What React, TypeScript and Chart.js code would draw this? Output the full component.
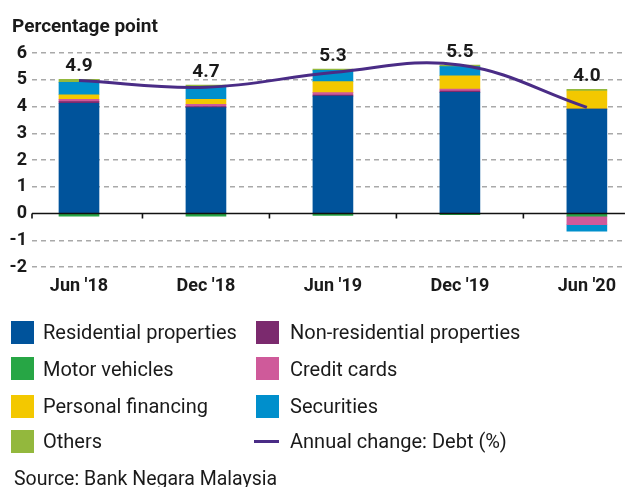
import React, { useEffect, useRef } from 'react';
import { Chart, registerables } from 'chart.js';

Chart.register(...registerables);

// ---- data ----
const categories = ["Jun '18", "Dec '18", "Jun '19", "Dec '19", "Jun '20"];
const residential = [4.12, 3.96, 4.39, 4.53, 3.9];
const nonResidential = [0.06, 0.04, 0.04, 0.05, 0.0];
const motorVehicles = [-0.1, -0.1, -0.07, -0.04, -0.1];
const creditCards = [0.09, 0.08, 0.09, 0.07, -0.32];
const personalFinancing = [0.17, 0.19, 0.41, 0.5, 0.68];
const securities = [0.46, 0.47, 0.42, 0.34, -0.24];
const others = [0.12, 0.06, 0.05, 0.06, 0.06];
const debtChange = [4.97, 4.72, 5.27, 5.55, 3.97];
const debtLabels = ['4.9', '4.7', '5.3', '5.5', '4.0'];
const yMin = -2;
const yMax = 6;

const seriesNames = [
  'Residential properties',
  'Non-residential properties',
  'Motor vehicles',
  'Credit cards',
  'Personal financing',
  'Securities',
  'Others',
];
const seriesValues = [residential, nonResidential, motorVehicles, creditCards, personalFinancing, securities, others];
const lineName = 'Annual change: Debt (%)';

// ---- styles ----
const seriesColors = ['#00539b', '#7b2a6e', '#27a645', '#cf5a9a', '#f3c800', '#008fcc', '#93b83d'];
const lineColor = '#4a2c86';
const FONT = 'Roboto, "Noto Sans", sans-serif';
const TEXT = '#1a1a1a';

const xMin = -0.37;
const xMax = 4.3;

const zeroLinePlugin = {
  id: 'zeroLineAndLabels',
  afterDatasetsDraw(chart: any) {
    const { ctx, chartArea, scales } = chart;
    const x = scales.x;
    const y = scales.y;
    const y0 = y.getPixelForValue(0);
    ctx.save();
    ctx.strokeStyle = '#111';
    ctx.lineWidth = 1.6;
    ctx.beginPath();
    ctx.moveTo(chartArea.left, y0);
    ctx.lineTo(chartArea.right, y0);
    const tickXs = [chartArea.left];
    for (let i = 0; i < categories.length - 1; i++) tickXs.push(x.getPixelForValue(i + 0.5));
    tickXs.forEach((px: number) => {
      ctx.moveTo(px, y0);
      ctx.lineTo(px, y0 + 5);
    });
    ctx.stroke();

    // value labels above stacks
    const meta = chart.getDatasetMeta(seriesNames.length - 1);
    ctx.fillStyle = TEXT;
    ctx.font = `bold 19px ${FONT}`;
    ctx.textAlign = 'center';
    ctx.textBaseline = 'alphabetic';
    meta.data.forEach((el: any, i: number) => {
      ctx.fillText(debtLabels[i], el.x, el.y - 8);
    });
    ctx.restore();
  },
};

export default function App() {
  const ref = useRef<HTMLCanvasElement>(null);

  useEffect(() => {
    const barSets = seriesNames.map((name, k) => ({
      type: 'bar' as const,
      label: name,
      data: seriesValues[k].map((v, i) => ({ x: i, y: v })),
      backgroundColor: seriesColors[k],
      borderWidth: 0,
      barThickness: 40,
      stack: 'debt',
      order: 1,
    }));
    const lineSet = {
      type: 'line' as const,
      label: lineName,
      data: debtChange.map((v, i) => ({ x: i, y: v })),
      borderColor: lineColor,
      backgroundColor: lineColor,
      borderWidth: 3,
      pointRadius: 0,
      tension: 0.4,
      stack: 'line',
      order: 0,
    };
    const chart = new Chart(ref.current as HTMLCanvasElement, {
      type: 'bar',
      data: { datasets: [...barSets, lineSet] as any },
      options: {
        animation: false,
        responsive: false,
        devicePixelRatio: 1,
        layout: { padding: { top: 53, left: 0, right: 0, bottom: 190 } },
        plugins: {
          legend: { display: false },
          tooltip: { enabled: false },
          title: { display: false },
        },
        scales: {
          x: {
            type: 'linear',
            min: xMin,
            max: xMax,
            offset: false,
            stacked: true,
            grid: { display: false, drawTicks: false },
            border: { display: false },
            afterBuildTicks: (s: any) => {
              s.ticks = categories.map((_, i) => ({ value: i }));
            },
            afterFit: (s: any) => {
              s.height = 30;
            },
            ticks: {
              autoSkip: false,
              maxRotation: 0,
              padding: 9,
              color: TEXT,
              font: { family: FONT, size: 18, weight: 'bold' },
              callback: (v: any) => categories[v as number] ?? '',
            },
          },
          y: {
            type: 'linear',
            min: yMin,
            max: yMax,
            stacked: true,
            afterFit: (s: any) => {
              s.width = 32;
            },
            grid: {
              drawTicks: false,
              lineWidth: 1.5,
              color: (c: any) => (c.tick && c.tick.value === 0 ? 'rgba(0,0,0,0)' : '#a9a9a9'),
            },
            border: { display: false, dash: [5, 4] },
            ticks: {
              stepSize: 1,
              padding: 5,
              color: TEXT,
              font: { family: FONT, size: 18, weight: 'bold' },
            },
          },
        },
      } as any,
      plugins: [zeroLinePlugin],
    });
    return () => chart.destroy();
  }, []);

  const legendItems = [
    ...seriesNames.map((n, k) => ({ name: n, color: seriesColors[k], line: false })),
    { name: lineName, color: lineColor, line: true },
  ];
  const rowCenters = [332, 368.5, 406.3, 441.3];
  const colBox = [11, 256];
  const colText = [43, 290];
  const LF = 20;

  return (
    <div
      style={{
        position: 'absolute',
        left: 0,
        top: 0,
        width: 625,
        height: 487,
        overflow: 'hidden',
        background: '#fff',
        fontFamily: FONT,
        color: TEXT,
      }}
    >
      <canvas
        ref={ref}
        width={625}
        height={487}
        style={{ position: 'absolute', left: 0, top: 0, width: 625, height: 487 }}
      />
      <div
        style={{
          position: 'absolute',
          left: 12,
          top: 15.7,
          fontSize: 19,
          lineHeight: '19px',
          fontWeight: 700,
          whiteSpace: 'nowrap',
        }}
      >
        Percentage point
      </div>
      {legendItems.map((it, idx) => {
        const row = Math.floor(idx / 2);
        const col = idx % 2;
        const cy = rowCenters[row];
        return (
          <React.Fragment key={it.name}>
            {it.line ? (
              <div
                style={{
                  position: 'absolute',
                  left: colBox[col] - 2,
                  top: cy - 1.5,
                  width: 25,
                  height: 3,
                  background: it.color,
                }}
              />
            ) : (
              <div
                style={{
                  position: 'absolute',
                  left: colBox[col],
                  top: cy - 11.5,
                  width: 23,
                  height: 23,
                  background: it.color,
                }}
              />
            )}
            <div
              style={{
                position: 'absolute',
                left: colText[col],
                top: cy - LF / 2,
                fontSize: LF,
                lineHeight: `${LF}px`,
                whiteSpace: 'nowrap',
              }}
            >
              {it.name}
            </div>
          </React.Fragment>
        );
      })}
      <div
        style={{
          position: 'absolute',
          left: 14,
          top: 469,
          fontSize: 19.5,
          lineHeight: '19.5px',
          whiteSpace: 'nowrap',
        }}
      >
        Source: Bank Negara Malaysia
      </div>
    </div>
  );
}
